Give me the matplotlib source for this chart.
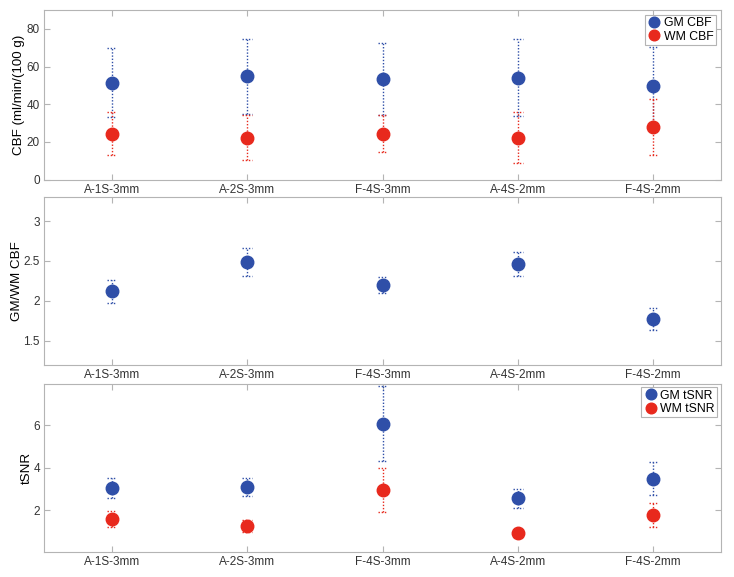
import numpy as np
import matplotlib
matplotlib.use("Agg")
import matplotlib.pyplot as plt

plt.rcParams['font.family'] = ['Liberation Sans', 'DejaVu Sans']

categories = ["A-1S-3mm", "A-2S-3mm", "F-4S-3mm", "A-4S-2mm", "F-4S-2mm"]

gm_cbf = [51.5, 54.7, 53.3, 54.0, 49.6]
gm_cbf_err = [18.3, 20.0, 19.0, 20.4, 21.0]
wm_cbf = [24.4, 22.3, 24.4, 22.3, 27.9]
wm_cbf_err = [11.3, 11.7, 10.0, 13.6, 15.0]

ratio_cbf = [2.12, 2.49, 2.20, 2.46, 1.77]
ratio_cbf_err = [0.145, 0.175, 0.10, 0.15, 0.14]

gm_tsnr = [3.06, 3.09, 6.07, 2.56, 3.49]
gm_tsnr_err = [0.46, 0.43, 1.76, 0.44, 0.77]
wm_tsnr = [1.61, 1.25, 2.96, 0.92, 1.79]
wm_tsnr_err = [0.37, 0.29, 1.03, 0.16, 0.56]

BLUE = '#2f4fa8'
RED = '#e8291d'
GRAY = '#b4b4b4'

fig = plt.figure(figsize=(7.34, 5.77), dpi=100)
W, H = 734, 577
def ax_at(left, top, right, bottom):
    return fig.add_axes([left / W, 1 - bottom / H, (right - left) / W, (bottom - top) / H])

ax1 = ax_at(44, 10, 721, 179.5)
ax2 = ax_at(44, 196.5, 721, 365.3)
ax3 = ax_at(44, 383.5, 721, 552.3)

x = np.arange(1, len(categories) + 1)
capw = 0.035
LS = (0, (1, 1.3))

def draw(ax, vals, errs, color, label=None):
    vals = np.asarray(vals); errs = np.asarray(errs)
    ax.vlines(x, vals - errs, vals + errs, colors=color, linestyles=LS, linewidth=1.0, zorder=2)
    ax.hlines(vals + errs, x - capw, x + capw, colors=color, linestyles=LS, linewidth=1.0, zorder=2)
    ax.hlines(vals - errs, x - capw, x + capw, colors=color, linestyles=LS, linewidth=1.0, zorder=2)
    ax.plot(x, vals, 'o', color=color, markersize=9, linestyle='none', label=label, zorder=3)

def style(ax):
    ax.set_xlim(0.5, 5.5)
    ax.set_xticks(x)
    ax.set_xticklabels(categories, fontsize=8.5, color='#222222')
    for s in ax.spines.values():
        s.set_color(GRAY)
        s.set_linewidth(0.8)
    ax.tick_params(direction='in', length=4.5, width=0.8, color=GRAY,
                   top=True, right=True, labelsize=8.5, labelcolor='#333333', pad=3)

def legend(ax, pad):
    leg = ax.legend(loc='upper right', fontsize=8.8, handletextpad=0.25, borderpad=0.2,
                    labelspacing=0.1, handlelength=1.1, fancybox=False, framealpha=1,
                    borderaxespad=pad, markerscale=0.85)
    leg.get_frame().set_edgecolor(GRAY)
    leg.get_frame().set_linewidth(0.8)

draw(ax1, gm_cbf, gm_cbf_err, BLUE, 'GM CBF')
draw(ax1, wm_cbf, wm_cbf_err, RED, 'WM CBF')
ax1.set_ylim(0, 90)
ax1.set_yticks([0, 20, 40, 60, 80])
ax1.set_ylabel('CBF (ml/min/(100 g)', fontsize=9.6)
ax1.yaxis.set_label_coords(-0.028, 0.5)
style(ax1)
legend(ax1, 0.4)

draw(ax2, ratio_cbf, ratio_cbf_err, BLUE)
ax2.set_ylim(1.19, 3.31)
ax2.set_yticks([1.5, 2, 2.5, 3])
ax2.set_yticklabels(['1.5', '2', '2.5', '3'])
ax2.set_ylabel('GM/WM CBF', fontsize=9.6)
ax2.yaxis.set_label_coords(-0.031, 0.5)
style(ax2)

draw(ax3, gm_tsnr, gm_tsnr_err, BLUE, 'GM tSNR')
draw(ax3, wm_tsnr, wm_tsnr_err, RED, 'WM tSNR')
ax3.set_ylim(0.03, 7.95)
ax3.set_yticks([2, 4, 6])
ax3.set_ylabel('tSNR', fontsize=9.6)
ax3.yaxis.set_label_coords(-0.016, 0.5)
style(ax3)
legend(ax3, 0.3)

fig.savefig('out.png', dpi=100)
